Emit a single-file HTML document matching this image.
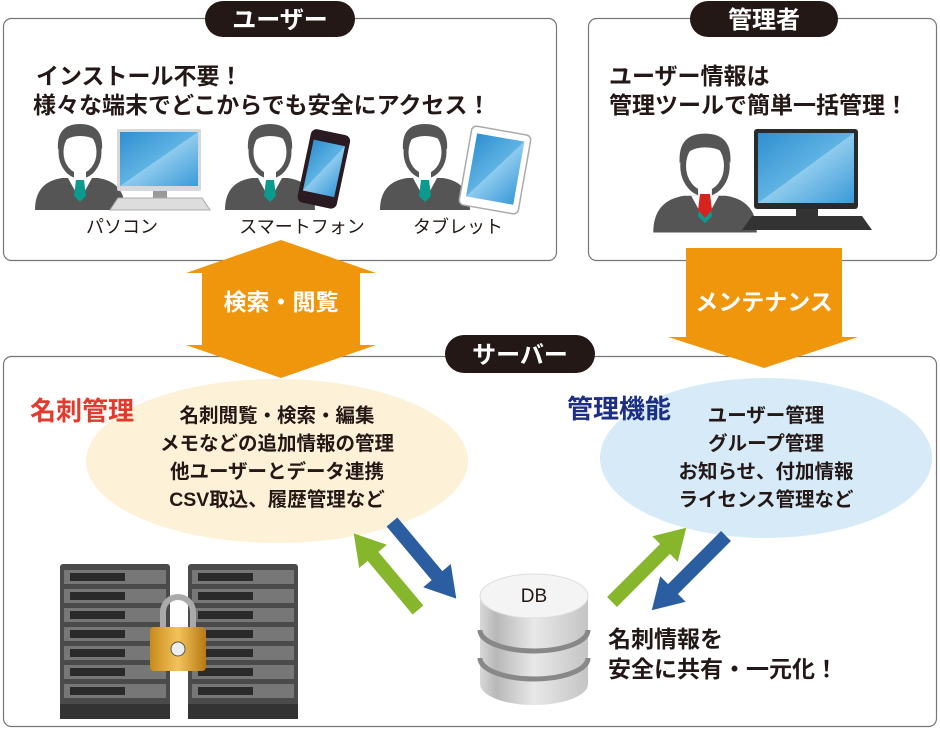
<!DOCTYPE html>
<html><head><meta charset="utf-8"><style>
html,body{margin:0;padding:0;background:#fff}
svg{display:block}
text{font-family:"Liberation Sans","Noto Sans CJK JP",sans-serif;font-weight:bold}
</style></head><body>
<svg width="940" height="731" viewBox="0 0 940 731" xmlns="http://www.w3.org/2000/svg">
<defs>
<linearGradient id="scr" x1="0" y1="0" x2="1" y2="1"><stop offset="0" stop-color="#2f8fd0"/><stop offset="0.5" stop-color="#5fb3e3"/><stop offset="0.5" stop-color="#8fcbee"/><stop offset="1" stop-color="#3a9ad8"/></linearGradient>
<linearGradient id="cyl" x1="0" y1="0" x2="1" y2="0"><stop offset="0" stop-color="#d8d8d8"/><stop offset="0.15" stop-color="#b8b8b8"/><stop offset="0.5" stop-color="#e8e8e8"/><stop offset="1" stop-color="#c4c4c4"/></linearGradient>
<linearGradient id="gold" x1="0" y1="0" x2="1" y2="0"><stop offset="0" stop-color="#c98a1c"/><stop offset="0.5" stop-color="#f3c35a"/><stop offset="1" stop-color="#b77a12"/></linearGradient>
<g id="person">
<path d="M-45 50 Q-45 22 -18 18 L18 18 Q45 22 45 50 Z" fill="#555"/>
<path d="M-12 18 L0 40 L12 18 Z" fill="#fff"/>
<path d="M-4 20 L4 20 L6 36 L0 42 L-6 36 Z" fill="#0a9a8e"/>
<ellipse cx="0" cy="-8" rx="19" ry="24" fill="#fff" stroke="#555" stroke-width="5"/>
<path d="M-22 -10 Q-24 -36 0 -36 Q24 -36 22 -10 Q18 -24 0 -24 Q-16 -24 -22 -10Z" fill="#555"/>
<rect x="-6" y="12" width="12" height="8" fill="#fff"/>
</g>
<g id="rack">
<rect x="0" y="0" width="110" height="155" rx="3" fill="#4a4a4a"/>
<g fill="#777"><rect x="4" y="6" width="102" height="14"/><rect x="4" y="25" width="102" height="14"/><rect x="4" y="44" width="102" height="14"/><rect x="4" y="63" width="102" height="14"/><rect x="4" y="82" width="102" height="14"/><rect x="4" y="101" width="102" height="14"/><rect x="4" y="120" width="102" height="14"/></g>
<g fill="#2a2a2a"><rect x="10" y="9" width="55" height="8"/><rect x="10" y="28" width="55" height="8"/><rect x="10" y="47" width="55" height="8"/><rect x="10" y="66" width="55" height="8"/><rect x="10" y="85" width="55" height="8"/><rect x="10" y="104" width="55" height="8"/><rect x="10" y="123" width="55" height="8"/></g>
<rect x="0" y="140" width="110" height="15" fill="#333"/>
</g>
</defs>

<!-- User box -->
<rect x="3.5" y="18.5" width="553" height="242" rx="8" fill="#fff" stroke="#777" stroke-width="1.2"/>
<rect x="205" y="1" width="150" height="36" rx="18" fill="#231815"/>
<text x="280" y="28" font-size="24" fill="#fff" text-anchor="middle">ユーザー</text>
<text x="36" y="84" font-size="23" fill="#231815">インストール不要！</text>
<text x="33" y="113" font-size="23" fill="#231815">様々な端末でどこからでも安全にアクセス！</text>
<!-- PC -->
<use href="#person" x="80" y="160"/>
<rect x="117" y="129" width="84" height="62" rx="2" fill="#d8d8d8"/>
<rect x="120" y="132" width="78" height="54" fill="url(#scr)"/>
<rect x="153" y="191" width="14" height="7" fill="#999"/>
<path d="M110 210 L118 198 L202 198 L210 210Z" fill="#ddd" stroke="#aaa"/>
<text x="122" y="233" font-size="18" fill="#231815" text-anchor="middle" style="font-weight:normal">パソコン</text>
<!-- phone -->
<use href="#person" x="270" y="160"/>
<g transform="rotate(12 322 168)"><rect x="304" y="131" width="40" height="75" rx="6" fill="#2a1a22"/><rect x="308" y="142" width="32" height="52" fill="url(#scr)"/></g>
<text x="302" y="233" font-size="18" fill="#231815" text-anchor="middle" style="font-weight:normal">スマートフォン</text>
<!-- tablet -->
<use href="#person" x="425" y="160"/>
<g transform="rotate(10 495 170)"><rect x="465" y="130" width="60" height="80" rx="5" fill="#fff" stroke="#aaa" stroke-width="1.5"/><rect x="471" y="137" width="48" height="64" fill="url(#scr)"/></g>
<text x="458" y="233" font-size="18" fill="#231815" text-anchor="middle" style="font-weight:normal">タブレット</text>

<!-- Admin box -->
<rect x="588.5" y="18.5" width="348" height="242" rx="8" fill="#fff" stroke="#777" stroke-width="1.2"/>
<rect x="690" y="1" width="148" height="36" rx="18" fill="#231815"/>
<text x="764" y="28" font-size="24" fill="#fff" text-anchor="middle">管理者</text>
<text x="609" y="84" font-size="23" fill="#231815">ユーザー情報は</text>
<text x="609" y="113" font-size="23" fill="#231815">管理ツールで簡単一括管理！</text>
<g transform="translate(705,175) scale(1.15)"><use href="#person" x="0" y="0"/></g>
<path d="M700 194 L710 194 L712 210 L705 218 L698 210 Z" fill="#d7231f"/>
<rect x="754" y="129" width="104" height="80" rx="3" fill="#2a2a2a"/>
<rect x="758" y="133" width="96" height="70" fill="url(#scr)"/>
<rect x="796" y="209" width="22" height="7" fill="#333"/>
<path d="M742 230 L752 216 L862 216 L872 230Z" fill="#333"/>

<!-- Server box -->
<rect x="3.5" y="356.5" width="933" height="370" rx="8" fill="#fff" stroke="#777" stroke-width="1.2"/>

<!-- orange arrows -->
<path d="M281 240 L376 273 L360 273 L360 345 L376 345 L281 378 L186 345 L202 345 L202 273 L186 273 Z" fill="#f0960c"/>
<text x="281" y="310" font-size="23" fill="#fff" text-anchor="middle">検索・閲覧</text>
<path d="M686 248 L842 248 L842 337 L858 337 L764 368 L668 337 L686 337 Z" fill="#f0960c"/>
<text x="764" y="310" font-size="23" fill="#fff" text-anchor="middle">メンテナンス</text>

<rect x="445" y="335" width="150" height="38" rx="19" fill="#231815"/>
<text x="520" y="363" font-size="24" fill="#fff" text-anchor="middle">サーバー</text>

<!-- ellipses -->
<ellipse cx="277" cy="461" rx="191" ry="82" fill="#fdf1d7"/>
<ellipse cx="766" cy="458" rx="166" ry="80" fill="#d6eaf8"/>
<text x="30" y="420" font-size="26" fill="#e43a2d">名刺管理</text>
<text x="567" y="418" font-size="26" fill="#1d2f85">管理機能</text>
<g font-size="19.5" fill="#231815" text-anchor="middle">
<text x="277" y="422">名刺閲覧・検索・編集</text>
<text x="277" y="450">メモなどの追加情報の管理</text>
<text x="277" y="478">他ユーザーとデータ連携</text>
<text x="277" y="506">CSV取込、履歴管理など</text>
<text x="766" y="422">ユーザー管理</text>
<text x="766" y="450">グループ管理</text>
<text x="766" y="478">お知らせ、付加情報</text>
<text x="766" y="506">ライセンス管理など</text>
</g>

<!-- small arrows -->
<g>
<path d="M0 -7 L70 -7 L70 -18 L100 0 L70 18 L70 7 L0 7 Z" fill="#85b62b" transform="translate(418,610) rotate(-130)"/>
<path d="M0 -7 L70 -7 L70 -18 L100 0 L70 18 L70 7 L0 7 Z" fill="#2a5ea0" transform="translate(392,522) rotate(50)"/>
<path d="M0 -7 L75 -7 L75 -18 L105 0 L75 18 L75 7 L0 7 Z" fill="#85b62b" transform="translate(612,602) rotate(-45)"/>
<path d="M0 -7 L75 -7 L75 -18 L105 0 L75 18 L75 7 L0 7 Z" fill="#2a5ea0" transform="translate(726,536) rotate(135)"/>
</g>

<!-- DB -->
<path d="M480 596 L480 684 A54 21 0 0 0 588 684 L588 596 Z" fill="url(#cyl)"/>
<path d="M480 630 A54 21 0 0 0 588 630" fill="none" stroke="#888" stroke-width="5"/>
<path d="M480 658 A54 21 0 0 0 588 658" fill="none" stroke="#888" stroke-width="5"/>
<ellipse cx="534" cy="596" rx="54" ry="22" fill="#f4f4f4" stroke="#ddd"/>
<text x="534" y="602" font-size="19" fill="#231815" text-anchor="middle" style="font-weight:normal">DB</text>
<text x="608" y="647" font-size="23" fill="#231815">名刺情報を</text>
<text x="608" y="677" font-size="23" fill="#231815">安全に共有・一元化！</text>

<!-- servers -->
<use href="#rack" x="60" y="564"/>
<use href="#rack" x="188" y="564"/>
<path d="M163 630 L163 612 A15 15 0 0 1 193 612 L193 630" fill="none" stroke="#aaa" stroke-width="6"/>
<rect x="150" y="627" width="56" height="44" rx="4" fill="url(#gold)"/>
<circle cx="178" cy="649" r="7" fill="#eee" stroke="#555"/>
</svg>
</body></html>
